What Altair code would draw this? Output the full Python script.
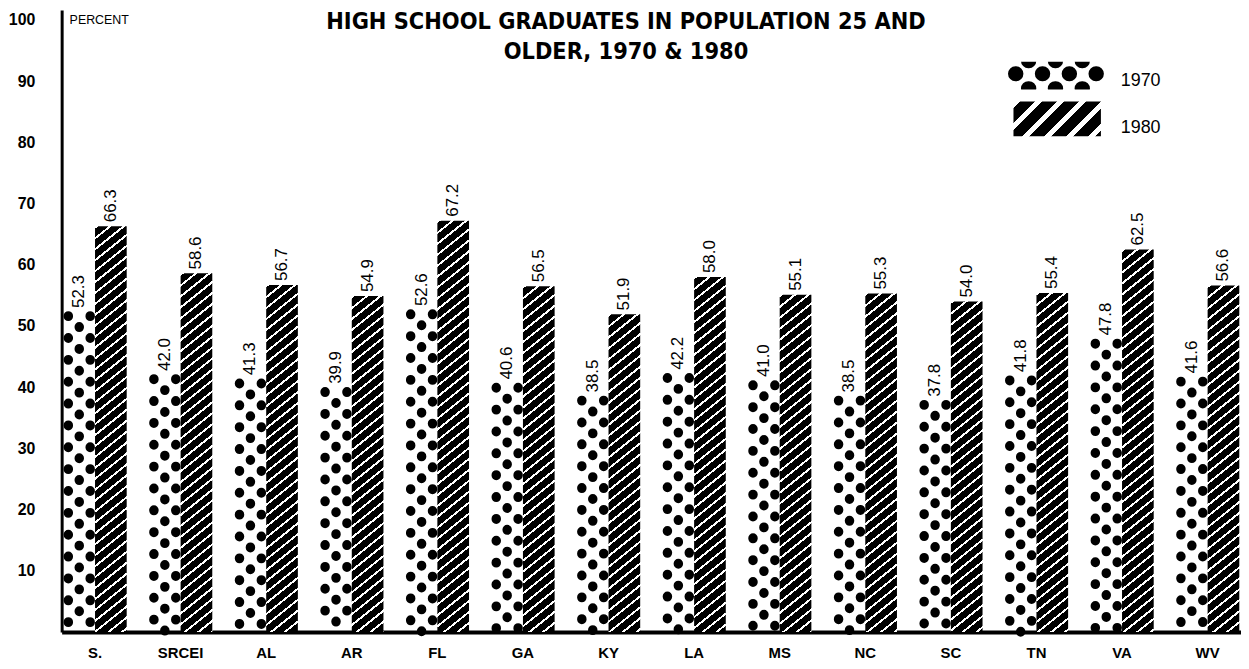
import altair as alt
import pandas as pd

# ---------------- data ----------------
states = ["S.", "SRCEI", "AL", "AR", "FL", "GA", "KY", "LA", "MS", "NC", "SC", "TN", "VA", "WV"]
v1970 = [52.3, 42.0, 41.3, 39.9, 52.6, 40.6, 38.5, 42.2, 41.0, 38.5, 37.8, 41.8, 47.8, 41.6]
v1980 = [66.3, 58.6, 56.7, 54.9, 67.2, 56.5, 51.9, 58.0, 55.1, 55.3, 54.0, 55.4, 62.5, 56.6]
years = ["1970", "1980"]
y_ticks = [10, 20, 30, 40, 50, 60, 70, 80, 90, 100]
title_lines = ["HIGH SCHOOL GRADUATES IN POPULATION 25 AND", "OLDER, 1970 & 1980"]

df = pd.DataFrame(
    {"state": states * 2, "year": ["1970"] * len(states) + ["1980"] * len(states), "value": v1970 + v1980}
)
df70 = df[df.year == "1970"]
df80 = df[df.year == "1980"]
one = pd.DataFrame({"k": [0]})

# ---------------- geometry / style ----------------
W, H = 1187, 626
YMAX = 101.6
PXU = H / YMAX
P_IN, P_OUT = 0.26, 0.02
step = W / (len(states) - P_IN + 2 * P_OUT)
sub_w = step * (1 - P_IN) / 2
FONT = "Liberation Sans"


def hatch(w, h, m, period, black):
    """Diagonal '///' stripes as a hard-stop linear gradient in bbox units."""
    R = m * w + h
    k = R / (m * m * w * w + h * h)
    stops = []
    c = 0.0
    white = period - black
    while c < R:
        for a, b, col in ((c, c + white, "white"), (c + white, c + period, "black")):
            stops.append(alt.GradientStop(offset=min(a / R, 1.0), color=col))
            stops.append(alt.GradientStop(offset=min(b / R, 1.0), color=col))
        c += period
    return alt.LinearGradient(gradient="linear", x1=0, y1=0, x2=m * w * k, y2=h * k, stops=stops)


X = alt.X(
    "state:N",
    sort=states,
    scale=alt.Scale(domain=states, paddingInner=P_IN, paddingOuter=P_OUT),
    axis=alt.Axis(
        title=None, ticks=False, domainWidth=4, domainColor="black", labelAngle=0,
        labelPadding=14, labelFontSize=15, labelFontWeight="bold", labelColor="black", labelFont=FONT,
    ),
)
X0 = alt.X("state:N", sort=states, bandPosition=0,
           scale=alt.Scale(domain=states, paddingInner=P_IN, paddingOuter=P_OUT))
XO = alt.XOffset("year:N", scale=alt.Scale(domain=years, paddingInner=0, paddingOuter=0))
Y = alt.Y(
    "value:Q",
    scale=alt.Scale(domain=[0, YMAX], nice=False, zero=True),
    axis=alt.Axis(
        title=None, values=y_ticks, ticks=False, grid=False, domainWidth=3, domainColor="black",
        labelPadding=27, labelFontSize=16, labelFontWeight="bold", labelColor="black", labelFont=FONT,
    ),
)

layers = []

# 1980 hatched bars (one layer per bar so each gets its own stripe gradient)
for s, v in zip(states, v1980):
    sub = df80[df80.state == s]
    layers.append(
        alt.Chart(sub).mark_bar(fill=hatch(sub_w, v * PXU, 0.8, 11, 8.5)).encode(x=X, xOffset=XO, y=Y)
    )

# 1970 dotted bars: columns of round dots
for dx, off in ((5, 18), (16, 7), (27, 18)):
    layers.append(
        alt.Chart(df70)
        .mark_rule(color="black", strokeWidth=9.5, strokeCap="round", strokeDash=[0.5, 21.5],
                   strokeDashOffset=off, xOffset=dx)
        .encode(x=X0, y=Y, y2=alt.datum(0))
    )

# value labels
layers.append(
    alt.Chart(df)
    .mark_text(angle=270, align="left", baseline="middle", dx=4, fontSize=17, font=FONT, color="black")
    .encode(x=X, xOffset=XO, y=Y, text=alt.Text("value:Q", format=".1f"))
)

# title
for i, line in enumerate(title_lines):
    layers.append(
        alt.Chart(one)
        .mark_text(text=line, font="DejaVu Sans Condensed", fontWeight="bold", fontSize=23.5,
                   align="center", baseline="alphabetic", color="black")
        .encode(x=alt.value(568), y=alt.value(19 + 30 * i))
    )

# axis caption
layers.append(
    alt.Chart(one)
    .mark_text(text="PERCENT", font=FONT, fontSize=12.5, align="left", baseline="middle", color="black")
    .encode(x=alt.value(8), y=alt.value(10))
)

# legend: 1970 dots
for y0, x_a, x_b in ((51, 973, 1029), (64, 960, 1042), (79, 973, 1029)):
    layers.append(
        alt.Chart(one)
        .mark_rule(color="black", strokeWidth=15, strokeCap="round", strokeDash=[0.5, 26.5])
        .encode(x=alt.value(x_a), x2=alt.value(x_b), y=alt.value(y0))
    )
for ya, yb in ((36, 52), (80, 90)):
    layers.append(
        alt.Chart(one).mark_rect(color="white")
        .encode(x=alt.value(945), x2=alt.value(1055), y=alt.value(ya), y2=alt.value(yb))
    )
# legend: 1980 stripes
layers.append(
    alt.Chart(one).mark_rect(fill=hatch(88, 35, 1.0, 22, 15))
    .encode(x=alt.value(958), x2=alt.value(1046), y=alt.value(92), y2=alt.value(127))
)
for lab, yy in (("1970", 71), ("1980", 119)):
    layers.append(
        alt.Chart(one)
        .mark_text(text=lab, font=FONT, fontSize=18, align="left", baseline="middle", color="black")
        .encode(x=alt.value(1066), y=alt.value(yy))
    )

chart = (
    alt.layer(*layers)
    .properties(
        width=W, height=H,
        padding={"left": 54, "top": 0, "right": 0, "bottom": 31},
        autosize=alt.AutoSizeParams(type="none"),
        background="white",
    )
    .configure_view(strokeWidth=0)
)

chart.save("out.html", embed_options={"renderer": "svg", "actions": False})
